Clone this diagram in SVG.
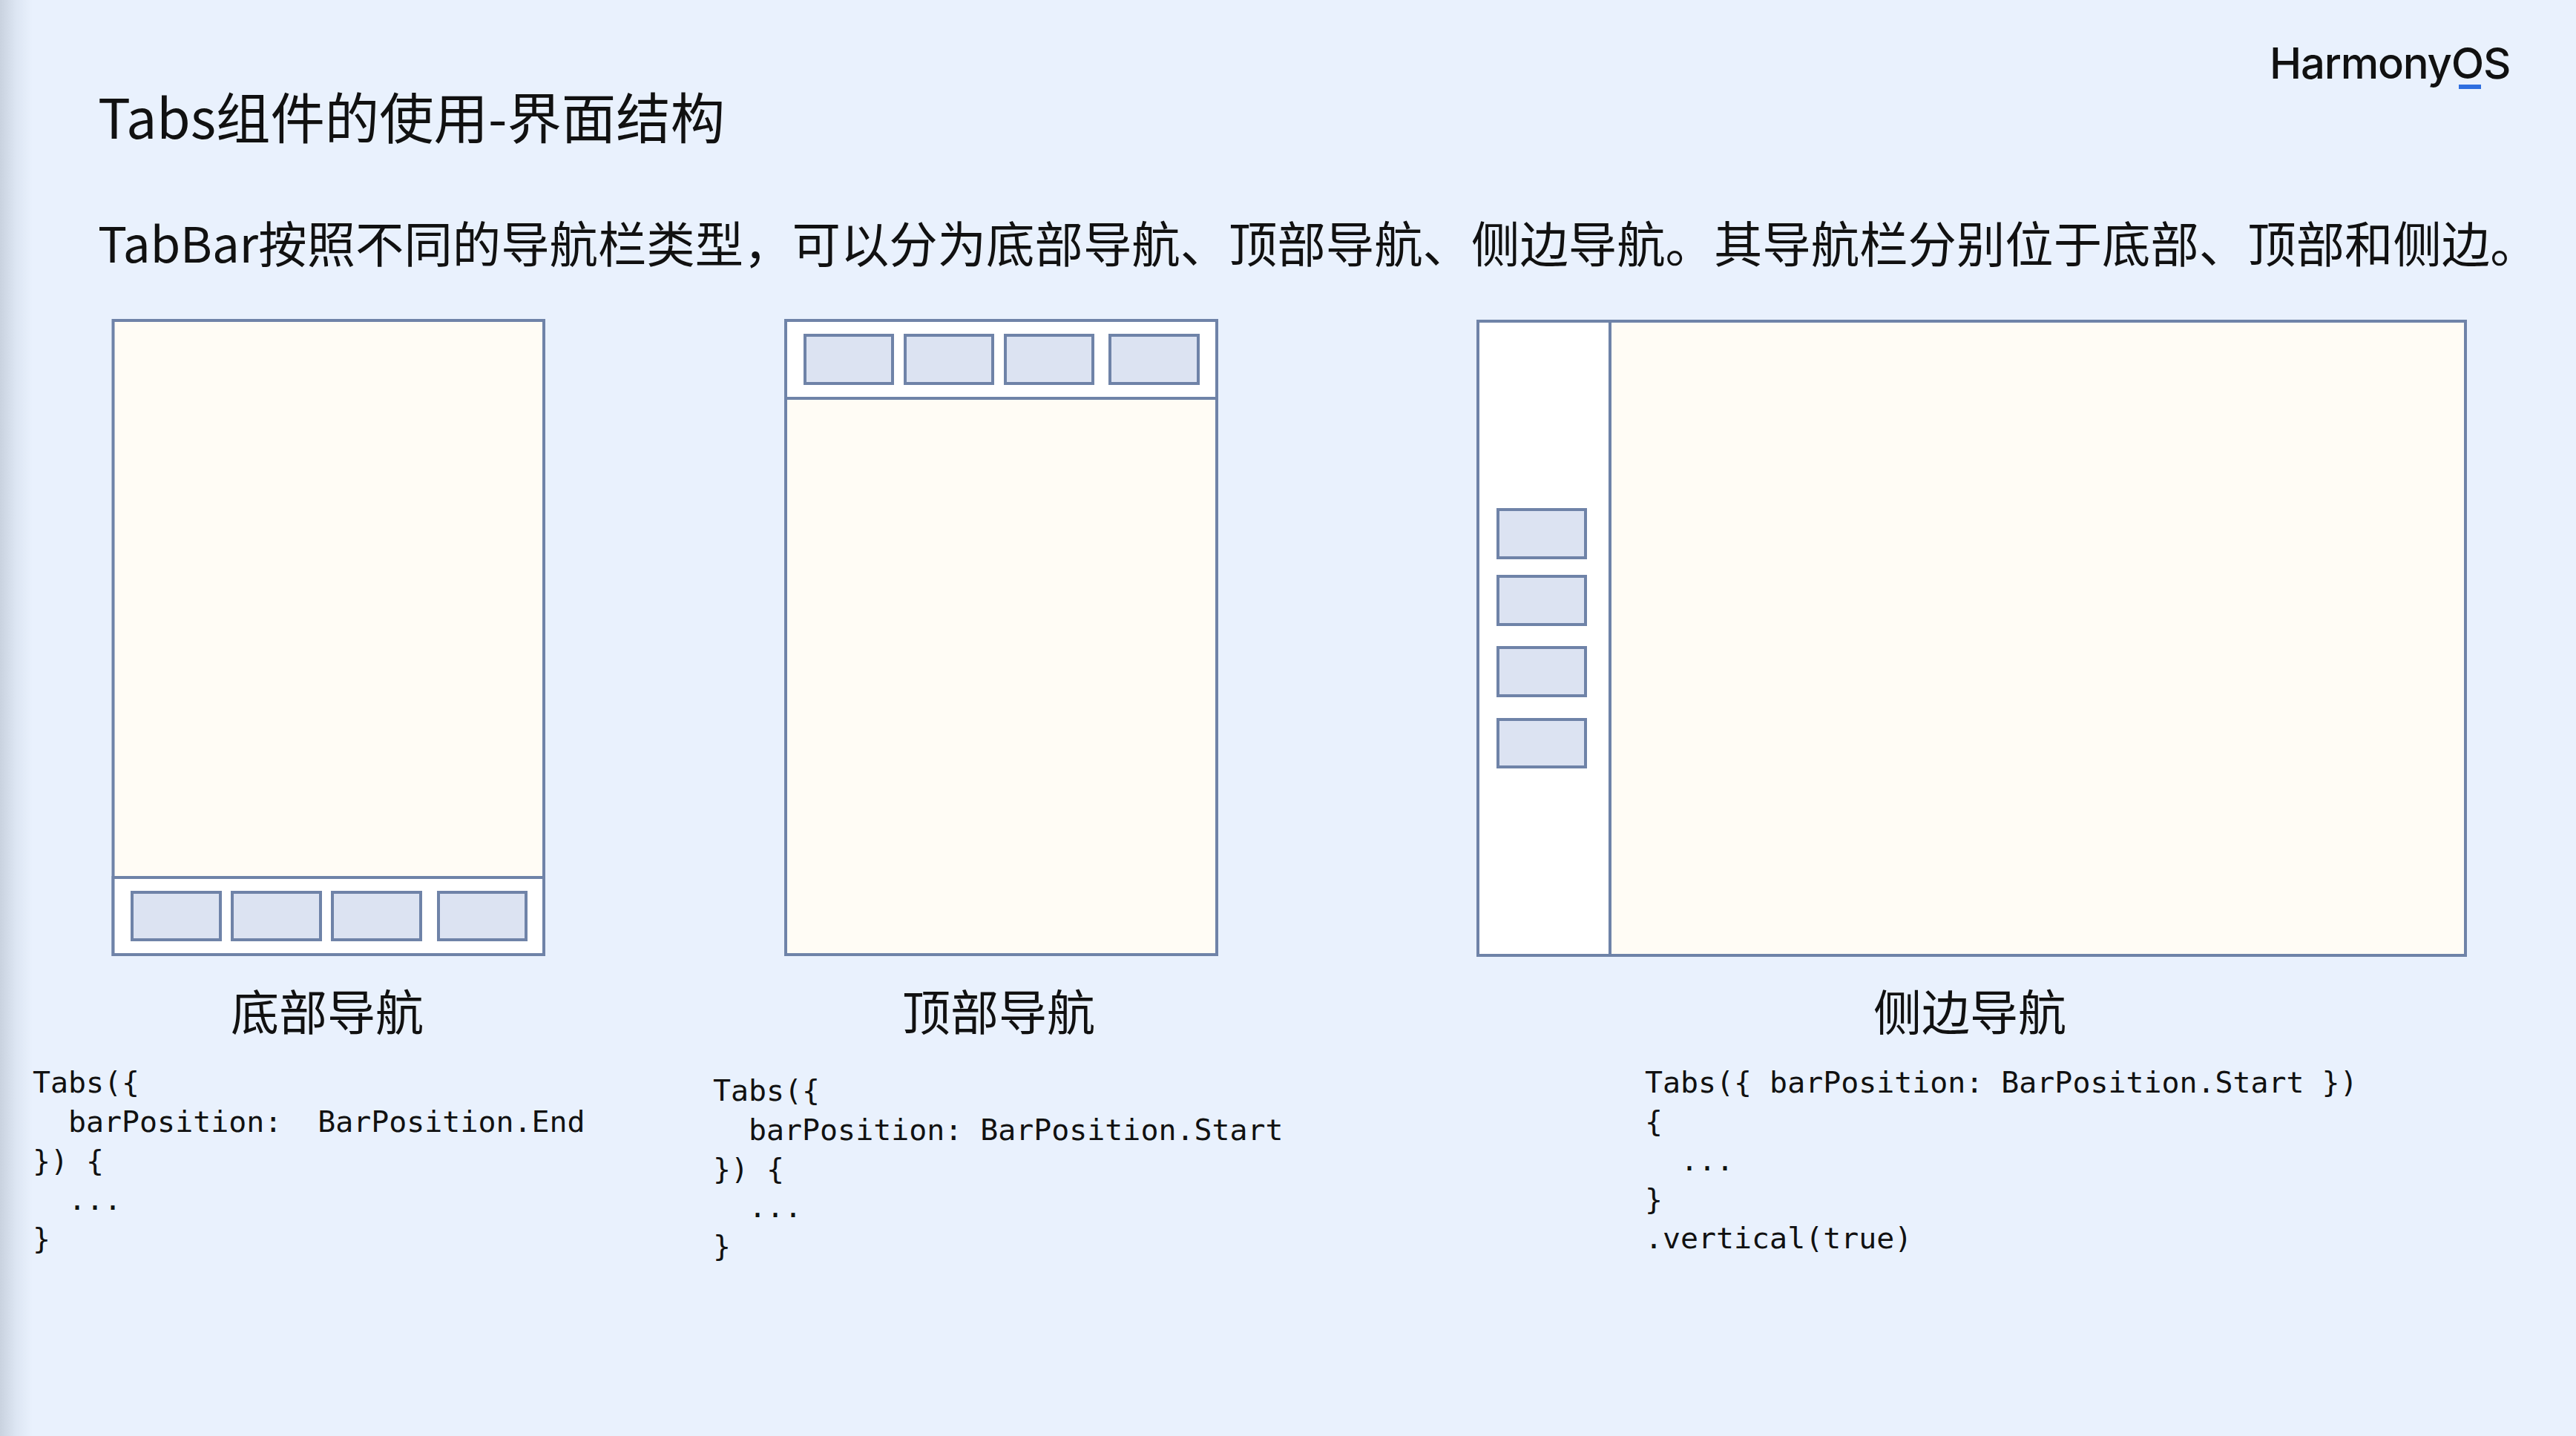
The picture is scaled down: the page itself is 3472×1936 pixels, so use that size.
<svg xmlns="http://www.w3.org/2000/svg" width="3472" height="1936" viewBox="0 0 3472 1936">
<style>
.frame{fill:#fffcf5;stroke:#6f83a8;stroke-width:4}
.bar{fill:#ffffff;stroke:#6f83a8;stroke-width:4}
.tab{fill:#dce3f2;stroke:#6f83a8;stroke-width:4}
text{fill:#111;font-family:"Noto Sans CJK SC","Noto Sans",sans-serif;font-weight:400}
.lab{font-size:65px;text-anchor:middle}
.code{font-family:"DejaVu Sans Mono",monospace;font-size:39.9px;font-weight:400;white-space:pre}
</style>
<defs><linearGradient id="edge" x1="0" x2="1" y1="0" y2="0"><stop offset="0" stop-color="#c9d2df"/><stop offset="0.5" stop-color="#dde6f3"/><stop offset="1" stop-color="#e9f1fd"/></linearGradient></defs>
<rect width="3472" height="1936" fill="#e9f1fd"/>
<rect width="44" height="1936" fill="url(#edge)"/>
<text id="title" x="132" y="187" font-size="73.4">Tabs组件的使用-界面结构</text>
<text id="desc" x="132" y="354" font-size="65.4">TabBar按照不同的导航栏类型，可以分为底部导航、顶部导航、侧边导航。其导航栏分别位于底部、顶部和侧边。</text>
<g id="logo"><text x="3059" y="106" style="font-family:Inter,sans-serif;font-weight:500;font-size:58px" letter-spacing="-1.2">HarmonyOS</text><rect x="3314" y="114" width="30" height="6" fill="#2f6fe0"/></g>
<g id="node-bottom">
<rect class="frame" x="152.500" y="432" width="580.500" height="855"/>
<rect class="bar" x="152.500" y="1183" width="580.500" height="104"/>
<rect class="tab" x="178" y="1203" width="119" height="64"/><rect class="tab" x="313" y="1203" width="119" height="64"/><rect class="tab" x="448" y="1203" width="119" height="64"/><rect class="tab" x="591" y="1203" width="118" height="64"/>
<text class="lab" x="441" y="1389">底部导航</text>
<text class="code" x="44" y="1473">Tabs({</text><text class="code" x="44" y="1526">  barPosition:  BarPosition.End</text><text class="code" x="44" y="1579">}) {</text><text class="code" x="44" y="1631">  ...</text><text class="code" x="44" y="1684">}</text>
</g>
<g id="node-top">
<rect class="frame" x="1059" y="432" width="581" height="855"/>
<rect class="bar" x="1059" y="432" width="581" height="105"/>
<rect class="tab" x="1085" y="452" width="118" height="65"/><rect class="tab" x="1220" y="452" width="118" height="65"/><rect class="tab" x="1355" y="452" width="118" height="65"/><rect class="tab" x="1496" y="452" width="119" height="65"/>
<text class="lab" x="1346" y="1389">顶部导航</text>
<text class="code" x="961" y="1484">Tabs({</text><text class="code" x="961" y="1537">  barPosition: BarPosition.Start</text><text class="code" x="961" y="1590">}) {</text><text class="code" x="961" y="1641">  ...</text><text class="code" x="961" y="1694">}</text>
</g>
<g id="node-side">
<rect class="frame" x="1992" y="433" width="1331" height="855"/>
<rect class="bar" x="1992" y="433" width="178" height="855"/>
<rect class="tab" x="2019" y="687" width="118" height="65"/><rect class="tab" x="2019" y="777" width="118" height="65"/><rect class="tab" x="2019" y="873" width="118" height="65"/><rect class="tab" x="2019" y="970" width="118" height="64"/>
<text class="lab" x="2655" y="1389">侧边导航</text>
<text class="code" x="2217" y="1473">Tabs({ barPosition: BarPosition.Start })</text><text class="code" x="2217" y="1526">{</text><text class="code" x="2217" y="1578">  ...</text><text class="code" x="2217" y="1631">}</text><text class="code" x="2217" y="1683">.vertical(true)</text>
</g>
<g id="connectors"/>
</svg>
